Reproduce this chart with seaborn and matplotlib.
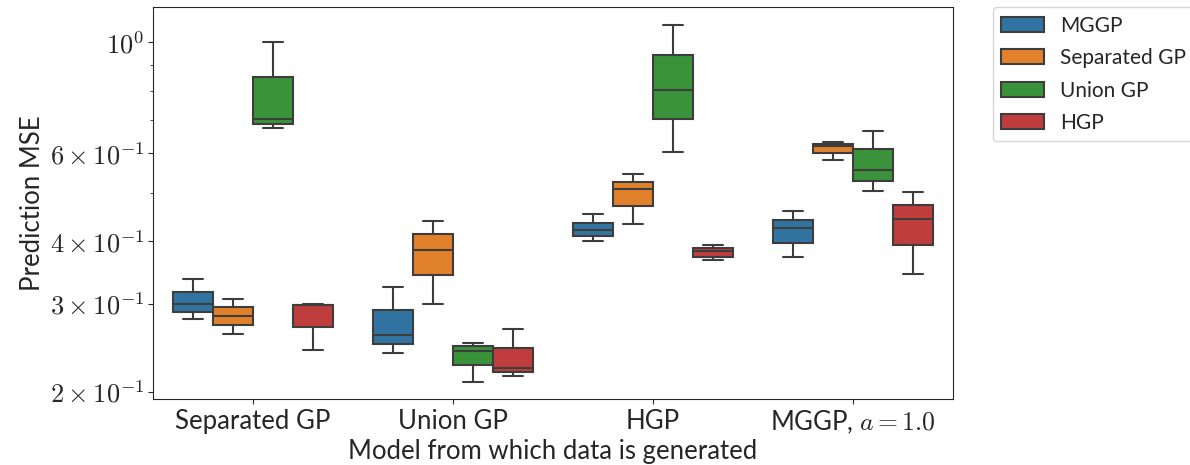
import numpy as np
import pandas as pd
import matplotlib
matplotlib.use("Agg")
import matplotlib.pyplot as plt
import seaborn as sns

# Generating models (x groups) and fitted models (hue)
groups = ["Separated GP", "Union GP", "HGP", r"MGGP, $a=1.0$"]
methods = ["MGGP", "Separated GP", "Union GP", "HGP"]

# Five-number summaries (min, q1, median, q3, max) of prediction MSE per group
mggp_mse = [
    [0.2796, 0.2892, 0.2991, 0.3171, 0.3363],
    [0.2397, 0.2492, 0.2593, 0.2919, 0.3246],
    [0.4013, 0.4107, 0.4216, 0.4359, 0.4529],
    [0.3715, 0.3976, 0.4255, 0.4421, 0.4593],
]
separated_mse = [
    [0.2605, 0.2720, 0.2835, 0.2956, 0.3066],
    [0.2991, 0.3420, 0.3850, 0.4131, 0.4394],
    [0.4340, 0.4700, 0.5084, 0.5261, 0.5441],
    [0.5811, 0.6013, 0.6210, 0.6257, 0.6313],
]
union_mse = [
    [0.6750, 0.6870, 0.7020, 0.8510, 1.0000],
    [0.2097, 0.2262, 0.2419, 0.2469, 0.2506],
    [0.6042, 0.7020, 0.8026, 0.9418, 1.0810],
    [0.5053, 0.5291, 0.5543, 0.6105, 0.6657],
]
hgp_mse = [
    [0.2430, 0.2690, 0.2981, 0.2983, 0.2997],
    [0.2156, 0.2196, 0.2231, 0.2453, 0.2677],
    [0.3664, 0.3727, 0.3819, 0.3885, 0.3934],
    [0.3443, 0.3930, 0.4442, 0.4730, 0.5030],
]

ytick_values = [0.2, 0.3, 0.4, 0.6, 1.0]
ytick_labels = [r"$2\times10^{-1}$", r"$3\times10^{-1}$", r"$4\times10^{-1}$",
                r"$6\times10^{-1}$", r"$10^{0}$"]

rows = []
for method, table in zip(methods, [mggp_mse, separated_mse, union_mse, hgp_mse]):
    for group, vals in zip(groups, table):
        for v in vals:
            rows.append({"group": group, "method": method, "mse": v})
df = pd.DataFrame(rows)

sns.set_style("ticks")
plt.rcParams["font.family"] = ["Lato", "DejaVu Sans"]
plt.rcParams["mathtext.fontset"] = "cm"
plt.rcParams["xtick.major.size"] = 3.5
plt.rcParams["ytick.major.size"] = 3.5
plt.rcParams["ytick.minor.size"] = 2.5

fig = plt.figure(figsize=(11.9, 4.65), dpi=100)
ax = fig.add_axes([0.1283, 0.1419, 0.6723, 0.8424])
ax.set_yscale("log")

sns.boxplot(data=df, x="group", y="mse", hue="method", order=groups,
            hue_order=methods, whis=(0, 100), width=0.8, linewidth=1.5,
            linecolor="#3d3d3d", ax=ax)

ax.set_ylim(0.1935, 1.175)
ax.set_yticks(ytick_values)
ax.set_yticklabels(ytick_labels, fontsize=19)
ax.tick_params(axis="y", pad=2.5)
ax.tick_params(axis="x", labelsize=18.5)
ax.set_xlabel("Model from which data is generated", fontsize=18.5, labelpad=2)
ax.set_ylabel("Prediction MSE", fontsize=18.5, labelpad=3)

handles, labels = ax.get_legend_handles_labels()
ax.legend(handles, labels, bbox_to_anchor=(1.05, 1), loc="upper left",
          borderaxespad=0, fontsize=15, handlelength=2.05,
          handleheight=0.72, labelspacing=0.6, title=None)

fig.savefig("out.png", dpi=100)
